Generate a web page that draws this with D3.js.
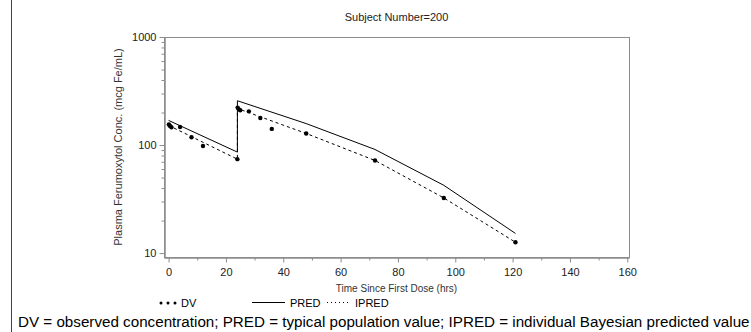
<!DOCTYPE html>
<html>
<head>
<meta charset="utf-8">
<script src="https://cdn.jsdelivr.net/npm/d3@7"></script>
<style>
  body { margin: 0; background: #fff; }
  svg { display: block; font-family: "Liberation Sans", Arial, sans-serif; }
</style>
</head>
<body>
<div id="chart"></div>
<script>
// observed concentrations (DV)
var dvTime = [0.1, 0.5, 1, 4, 8, 12, 24, 24.1, 24.5, 25, 28, 32, 36, 48, 72, 96, 121];
var dvConc = [155, 150, 146, 147, 118, 98, 74, 222, 214, 210, 205, 178, 141, 128, 72, 32.4, 12.6];

// typical population prediction (PRED)
var predTime = [0, 24, 24, 48, 72, 96, 121];
var predConc = [169, 86, 257, 158, 91, 42.4, 15.2];

// individual bayesian prediction (IPRED)
var ipredTime = [0, 24, 24, 48, 72, 96, 121];
var ipredConc = [152, 74, 218, 128, 72, 32.4, 12.6];

var xTicks = [0, 20, 40, 60, 80, 100, 120, 140, 160];
var xMinor = [10, 30, 50, 70, 90, 110, 130, 150];
var yTicks = [10, 100, 1000];
var yMinor = [20, 30, 40, 50, 60, 70, 80, 90, 200, 300, 400, 500, 600, 700, 800, 900];

var title = "Subject Number=200";
var xTitle = "Time Since First Dose (hrs)";
var yTitle = "Plasma Ferumoxytol Conc. (mcg Fe/mL)";
var footnote = "DV = observed concentration; PRED = typical population value; IPRED = individual Bayesian predicted value";

var W = 751, H = 332;
// plot frame (window.top is taken, so use a prefix)
var pLeft = 164, pRight = 629, pTop = 37, pBottom = 257;
var axisCol = "#8c8c8c";

var svg = d3.select("#chart").append("svg")
  .attr("width", W)
  .attr("height", H);

var x = d3.scaleLinear().domain([-1.6, 160.6]).range([pLeft, pRight]);
var y = d3.scaleLog().domain([9.2, 1000]).range([pBottom, pTop]);

// page border on the left
svg.append("line")
  .attr("x1", 11.5).attr("x2", 11.5)
  .attr("y1", 0).attr("y2", H)
  .attr("stroke", "#444").attr("stroke-width", 1);

// frame
svg.append("rect")
  .attr("x", pLeft + 0.5).attr("y", pTop + 0.5)
  .attr("width", pRight - pLeft).attr("height", pBottom - pTop)
  .attr("fill", "none").attr("stroke", axisCol);

// x axis
var gx = svg.append("g").attr("transform", "translate(0," + (pBottom + 0.5) + ")");
gx.call(d3.axisBottom(x).tickValues(xTicks).tickSize(5).tickSizeOuter(0).tickFormat(d3.format("d")));
gx.append("g").call(d3.axisBottom(x).tickValues(xMinor).tickSize(3).tickSizeOuter(0).tickFormat(""));

// y axis
var gy = svg.append("g").attr("transform", "translate(" + (pLeft + 0.5) + ",0)");
gy.call(d3.axisLeft(y).tickValues(yTicks).tickSize(5).tickSizeOuter(0).tickFormat(d3.format("d")));
gy.append("g").call(d3.axisLeft(y).tickValues(yMinor).tickSize(3).tickSizeOuter(0).tickFormat(""));

svg.selectAll(".domain").attr("stroke", axisCol);
svg.selectAll(".tick line").attr("stroke", axisCol);
svg.selectAll(".tick text").attr("fill", "#222").style("font-size", "11px");
gx.selectAll(".tick text").attr("dy", "0.95em");

// titles
svg.append("text")
  .attr("x", (pLeft + pRight) / 2).attr("y", 21)
  .attr("text-anchor", "middle")
  .style("font-size", "11px").attr("fill", "#222")
  .text(title);

svg.append("text")
  .attr("x", (pLeft + pRight) / 2).attr("y", 292)
  .attr("text-anchor", "middle")
  .style("font-size", "10px").attr("fill", "#333")
  .text(xTitle);

svg.append("text")
  .attr("transform", "translate(122," + ((pTop + pBottom) / 2) + ") rotate(-90)")
  .attr("text-anchor", "middle")
  .style("font-size", "11px").attr("fill", "#333")
  .text(yTitle);

// lines
var line = d3.line()
  .x(function(d) { return x(d[0]); })
  .y(function(d) { return y(d[1]); });

svg.append("path")
  .datum(d3.zip(predTime, predConc))
  .attr("d", line)
  .attr("fill", "none").attr("stroke", "#000").attr("stroke-width", 1);

svg.append("path")
  .datum(d3.zip(ipredTime, ipredConc))
  .attr("d", line)
  .attr("fill", "none").attr("stroke", "#000").attr("stroke-width", 1)
  .attr("stroke-dasharray", "3,3");

svg.selectAll("circle.dv")
  .data(d3.zip(dvTime, dvConc))
  .enter().append("circle")
  .attr("class", "dv")
  .attr("cx", function(d) { return x(d[0]); })
  .attr("cy", function(d) { return y(d[1]); })
  .attr("r", 2.2)
  .attr("fill", "#000");

// legend
var ly = 307;
var lg = svg.append("g");
[0, 7, 14].forEach(function(dx) {
  lg.append("circle").attr("cx", 161 + dx).attr("cy", ly - 4).attr("r", 1.5).attr("fill", "#000");
});
lg.append("text").attr("x", 181).attr("y", ly).style("font-size", "11px").text("DV");
lg.append("line").attr("x1", 252).attr("x2", 285).attr("y1", ly - 4.5).attr("y2", ly - 4.5)
  .attr("stroke", "#000");
lg.append("text").attr("x", 290).attr("y", ly).style("font-size", "11px").text("PRED");
lg.append("line").attr("x1", 327).attr("x2", 350).attr("y1", ly - 4.5).attr("y2", ly - 4.5)
  .attr("stroke", "#000").attr("stroke-dasharray", "1,3");
lg.append("text").attr("x", 355).attr("y", ly).style("font-size", "11px").text("IPRED");

// footnote
svg.append("text")
  .attr("x", 18).attr("y", 327)
  .style("font-size", "15.2px").attr("fill", "#000")
  .text(footnote);
</script>
</body>
</html>
